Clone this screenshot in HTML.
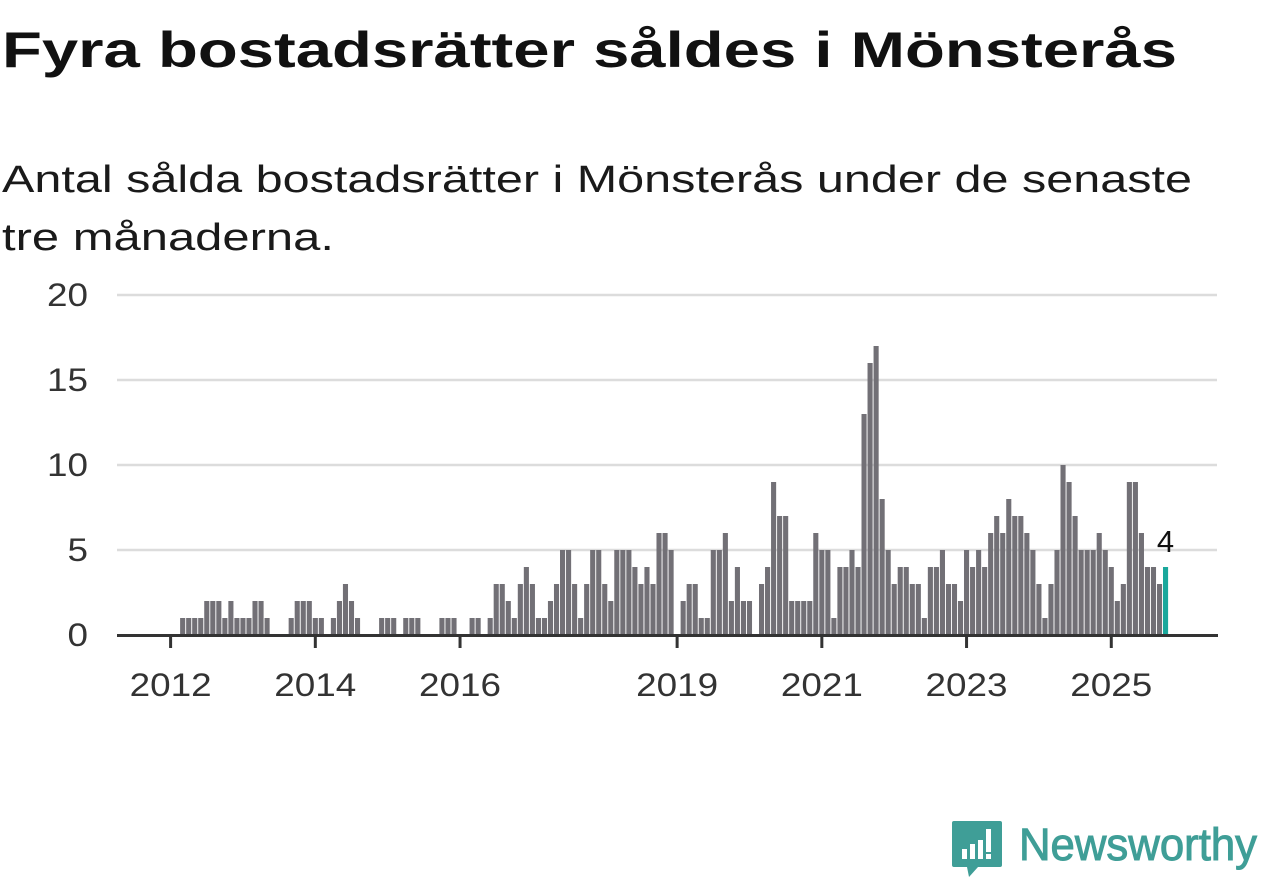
<!DOCTYPE html>
<html><head><meta charset="utf-8">
<style>
html,body{margin:0;padding:0;background:#fff;}
body{width:1262px;height:879px;overflow:hidden;position:relative;font-family:"Liberation Sans",sans-serif;}
svg{position:absolute;left:0;top:0;}
</style></head>
<body>
<svg id="chart" width="1262" height="879" viewBox="0 0 1262 879">
  <text x="2" y="67" font-size="50" font-weight="bold" fill="#111" textLength="1175" lengthAdjust="spacingAndGlyphs">Fyra bostadsrätter såldes i Mönsterås</text>
  <text x="2" y="192" font-size="38" fill="#1a1a1a" textLength="1190" lengthAdjust="spacingAndGlyphs">Antal sålda bostadsrätter i Mönsterås under de senaste</text>
  <text x="2" y="250" font-size="38" fill="#1a1a1a" textLength="332" lengthAdjust="spacingAndGlyphs">tre månaderna.</text>
  <g id="grid"></g>
  <g id="bars"></g>
  <g id="xaxis"></g>
  <g>
    <path d="M954 821 h46 a2 2 0 0 1 2 2 v42 a2 2 0 0 1 -2 2 h-22 l-9 10 l-2 -10 h-13 a2 2 0 0 1 -2 -2 v-42 a2 2 0 0 1 2 -2z" fill="#3f9e97"/>
    <rect x="962" y="849" width="5" height="10" fill="#fff"/>
    <rect x="970" y="844" width="5" height="15" fill="#fff"/>
    <rect x="978" y="840" width="5" height="19" fill="#fff"/>
    <rect x="986" y="829" width="5" height="23" fill="#fff"/>
    <rect x="986" y="854" width="5" height="5" fill="#fff"/>
    <text x="1019" y="860" font-size="45" fill="#3f9e97" stroke="#3f9e97" stroke-width="1" textLength="238" lengthAdjust="spacingAndGlyphs">Newsworthy</text>
  </g>
</svg>
<script>
// monthly values starting Jan 2012 (index 0)
const values = [0,0,1,1,1,1,2,2,2,1,2,1,1,1,2,2,1,0,0,0,
1,2,2,2,1,1,0,1,2,3,2,1,0,0,0,1,1,1,0,1,
1,1,0,0,0,1,1,1,0,0,1,1,0,1,3,3,2,1,3,4,
3,1,1,2,3,5,5,3,1,3,5,5,3,2,5,5,5,4,3,4,
3,6,6,5,0,2,3,3,1,1,5,5,6,2,4,2,2,0,3,4,
9,7,7,2,2,2,2,6,5,5,1,4,4,5,4,13,16,17,8,5,
3,4,4,3,3,1,4,4,5,3,3,2,5,4,5,4,6,7,6,8,
7,7,6,5,3,1,3,5,10,9,7,5,5,5,6,5,4,2,3,9,
9,6,4,4,3,4];
const yTicks = [0,5,10,15,20];
const yTickLabels = ["0","5","10","15","20"];
const xTickYears = [2012,2014,2016,2019,2021,2023,2025];
const lastLabel = "4";

const NS = "http://www.w3.org/2000/svg";
const x0 = 170.6, pitch = 6.03, barW = 5.1;
const y0 = 635, unit = 17;
function xScale(i){ return x0 + i*pitch; }
function yScale(v){ return y0 - v*unit; }
function mk(tag, attrs, parent){ const e=document.createElementNS(NS,tag); for(const k in attrs) e.setAttribute(k,attrs[k]); parent.appendChild(e); return e; }

const grid = document.getElementById('grid');
yTicks.forEach((t,k)=>{
  if(t!==0){
    const l = mk('line',{x1:117,x2:1217,y1:yScale(t),y2:yScale(t),stroke:'#dcdcdc','stroke-width':2.5},grid);
    
    
  }
  const lbl = yTickLabels[k];
  const tx = mk('text',{x:88,y:yScale(t)+11,'font-size':32,fill:'#333','text-anchor':'end',textLength:lbl.length*20.5,lengthAdjust:'spacingAndGlyphs'},grid);
  tx.textContent = lbl;
  
  
});

const bars = document.getElementById('bars');
values.forEach((v,i)=>{
  if(v<=0) return;
  const last = i===values.length-1;
  const r = mk('rect',{x:xScale(i)-barW/2,y:yScale(v),width:barW,height:v*unit,fill:last?'#1aa89c':'#727076'},bars);
  
  
});
const li = values.length-1;
const lab = mk('text',{x:xScale(li),y:yScale(values[li])-15,'font-size':31,fill:'#111','text-anchor':'middle'},bars);
lab.textContent = lastLabel;



const xa = document.getElementById('xaxis');
const ax = mk('line',{x1:117,x2:1218,y1:y0+0.5,y2:y0+0.5,stroke:'#333','stroke-width':3},xa);


xTickYears.forEach(yr=>{
  const xi = xScale((yr-2012)*12);
  const t = mk('line',{x1:xi,x2:xi,y1:y0,y2:y0+13,stroke:'#333','stroke-width':3},xa);
  
  
  const tx = mk('text',{x:xi,y:y0+61,'font-size':32,fill:'#333','text-anchor':'middle',textLength:82,lengthAdjust:'spacingAndGlyphs'},xa);
  tx.textContent = String(yr);
  
  
});
</script>
</body></html>
